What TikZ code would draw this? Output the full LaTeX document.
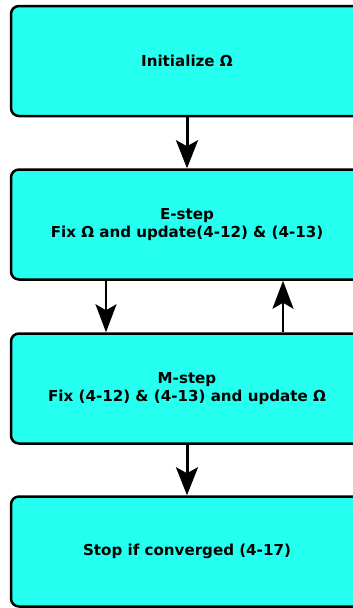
\documentclass[tikz,border=0pt]{standalone}
\usepackage{fontspec}
\setmainfont{DejaVu Sans}
\usetikzlibrary{arrows.meta}
\definecolor{boxfill}{RGB}{36,255,240}
\tikzset{
  stepbox/.style={draw=black, fill=boxfill, line width=2.5pt, rounded corners=8pt,
    minimum width=352pt, minimum height=110pt, inner sep=0pt, align=center,
    font=\fontsize{15.1pt}{18.3pt}\selectfont\bfseries},
  bigarr/.style={line width=3pt, -{Stealth[length=28pt,width=22pt,inset=6pt]}},
  midarr/.style={line width=2.2pt, -{Stealth[length=28pt,width=21pt,inset=6pt]}}
}
\begin{document}
\begin{tikzpicture}[x=1pt,y=1pt]
\useasboundingbox (0,0) rectangle (353,-608);
\clip (0,0) rectangle (353,-608);
\node[stepbox] (b1) at (187,-61) {Initialize Ω};
\node[stepbox] (b2) at (187,-224.5) {E-step\\Fix Ω and update(4-12) \& (4-13)};
\node[stepbox] (b3) at (187,-388.5) {M-step\\Fix (4-12) \& (4-13) and update Ω};
\node[stepbox] (b4) at (187,-551.5) {Stop if converged (4-17)};
\coordinate (lx) at (106,0);
\coordinate (rx) at (283,0);
\draw[bigarr] (b1.south) -- (b2.north);
\draw[midarr] (b2.south -| lx) -- (b3.north -| lx);
\draw[midarr] (b3.north -| rx) -- (b2.south -| rx);
\draw[bigarr] (b3.south) -- (b4.north);
\end{tikzpicture}
\end{document}
